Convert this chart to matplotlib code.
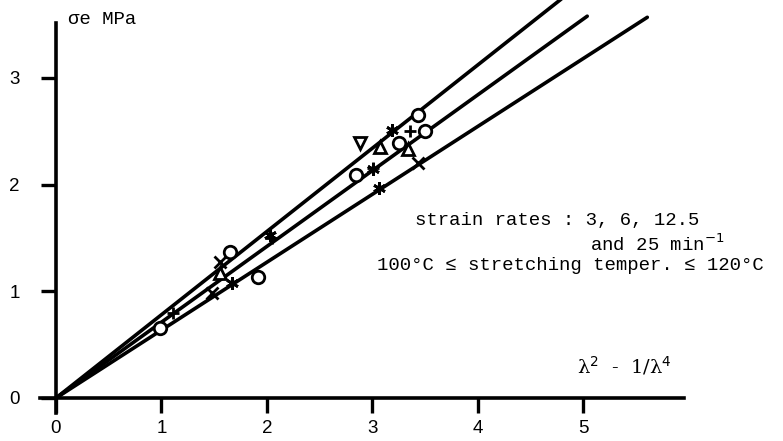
import matplotlib
matplotlib.use("Agg")
import matplotlib.pyplot as plt
import numpy as np

# ---- data ----
line_slopes = [0.78, 0.71, 0.636]
line_xmax = [4.80, 5.04, 5.61]

circle_x = [3.43, 3.50, 3.25, 2.85, 1.65, 1.92, 0.99]
circle_y = [2.65, 2.50, 2.39, 2.09, 1.37, 1.13, 0.66]
plus_x = [3.36, 3.01, 1.11, 2.05]
plus_y = [2.50, 2.16, 0.80, 1.50]
cross_x = [1.56, 1.48, 3.43]
cross_y = [1.27, 0.98, 2.20]
star_x = [3.19, 3.06, 1.67, 2.03, 3.01]
star_y = [2.51, 1.97, 1.08, 1.53, 2.15]
tri_up_x = [3.07, 3.34, 1.56]
tri_up_y = [2.35, 2.33, 1.17]
tri_dn_x = [2.88]
tri_dn_y = [2.39]

xticks = [0, 1, 2, 3, 4, 5]
yticks = [0, 1, 2, 3]

W, H = 783, 441
px_x0, px_y0 = 56, 398
sx, sy = 105.4, 106.7

fig = plt.figure(figsize=(W / 100, H / 100), dpi=100)
ax = fig.add_axes([0, 0, 1, 1])
ax.set_xlim(-px_x0 / sx, (W - px_x0) / sx)
ax.set_ylim(-(H - px_y0) / sy, px_y0 / sy)
ax.patch.set_alpha(0)

for s in ["top", "right"]:
    ax.spines[s].set_visible(False)
ax.spines["left"].set_position(("data", 0))
ax.spines["bottom"].set_position(("data", 0))
ax.spines["left"].set_bounds(-0.14, 3.51)
ax.spines["bottom"].set_bounds(-0.15, 5.96)
for s in ["left", "bottom"]:
    ax.spines[s].set_linewidth(2.6)

ax.set_xticks(xticks)
ax.set_yticks(yticks)
ax.tick_params(axis="both", direction="out", length=11, width=2.4,
               labelsize=13.5)
ax.tick_params(axis="x", pad=5)
ax.tick_params(axis="y", pad=15)
for lab in ax.get_xticklabels() + ax.get_yticklabels():
    lab.set_family("Liberation Sans")

for k, xm in zip(line_slopes, line_xmax):
    xs = np.array([0, xm])
    ax.plot(xs, k * xs, color="black", lw=2.6, solid_capstyle="round",
            clip_on=False)

mk = dict(linestyle="none", markersize=9, markeredgewidth=2.0,
          markeredgecolor="black", clip_on=False)
ax.plot(circle_x, circle_y, marker="o", markerfacecolor="white", **mk)
ax.plot(tri_up_x, tri_up_y, marker="^", markerfacecolor="white", **mk)
ax.plot(tri_dn_x, tri_dn_y, marker="v", markerfacecolor="white", **mk)
ax.plot(plus_x, plus_y, marker="+", **mk)
ax.plot(cross_x, cross_y, marker="x", **mk)
ax.plot(star_x, star_y, marker=(6, 2, 0), **mk)

mono = ["Liberation Mono", "DejaVu Sans Mono"]
fs = 13.7

def ftext(px, py, s, **kw):
    fig.text(px / W, 1 - py / H, s, va="center", ha="left", **kw)

ftext(68, 20, "σe MPa", family=mono, fontsize=fs)
ftext(415, 221, "strain rates : 3, 6, 12.5", family=mono, fontsize=fs)
ftext(590, 244, "and 25 min$^{-1}$", family=mono, fontsize=fs)
ftext(377, 266, "100°C ≤ stretching temper. ≤ 120°C", family=mono, fontsize=fs)
ftext(577, 366, "λ$^{2}$  -  1/λ$^{4}$", family=["DejaVu Serif"], fontsize=14)

fig.savefig("out.png", dpi=100)
